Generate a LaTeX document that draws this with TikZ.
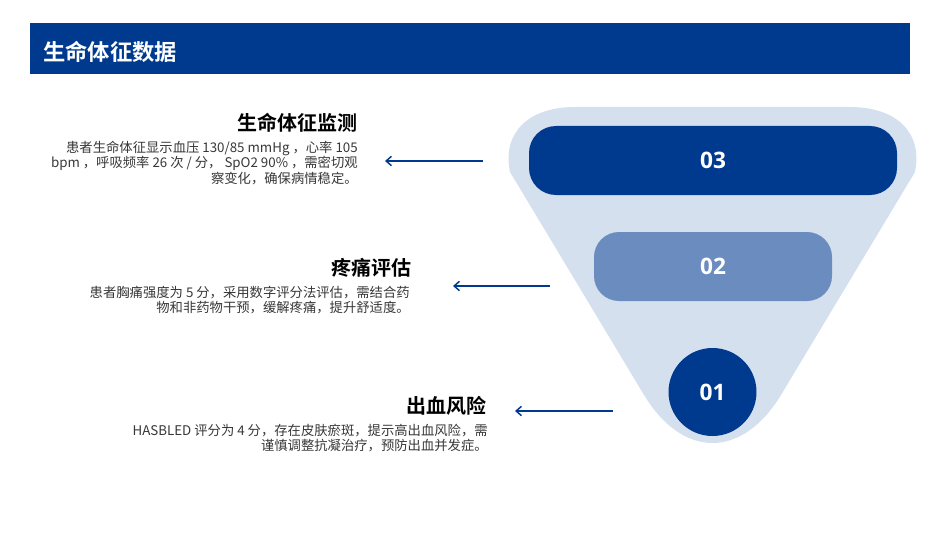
\documentclass[tikz,border=0pt]{standalone}
\usepackage{fontspec}
\setmainfont{Noto Sans CJK SC}[BoldFont={Noto Sans CJK SC Bold}]
\newfontfamily\numfont{Open Sans}
\usetikzlibrary{arrows.meta}
\definecolor{darkblue}{RGB}{0,58,143}
\definecolor{midblue}{RGB}{106,140,191}
\definecolor{lightblue}{RGB}{213,224,238}
\definecolor{bodygray}{RGB}{55,55,55}
\tikzset{
  titletext/.style={anchor=base east, inner sep=0pt, font=\fontsize{15}{18}\selectfont\bfseries, text=black},
  bodytext/.style={anchor=north east, inner sep=0pt, align=right, font=\fontsize{10}{11.8}\selectfont, text=bodygray},
  numtext/.style={text=white, font=\numfont\fontsize{17}{20}\selectfont\bfseries},
  pointer/.style={draw=darkblue, line width=1.1pt, -{Straight Barb[length=4pt,width=7pt,line width=1.1pt]}},
}
\begin{document}
\begin{tikzpicture}[x=0.75pt,y=-0.75pt]
\useasboundingbox (0,0) rectangle (950,535);
% header
\fill[darkblue] (30,23) rectangle (910,74);
\node[anchor=west, inner sep=0pt, text=white, font=\fontsize{16.7}{20}\selectfont\bfseries] (hdr) at (43,52) {生命体征数据};
% funnel
\fill[lightblue] (510,172) .. controls (502,133) and (528,107) .. (575,107)
  -- (850,107) .. controls (897,107) and (923,133) .. (915,172)
  -- (781,395) .. controls (742,459) and (683,459) .. (644,395) -- cycle;
% levels
\node[fill=darkblue, rounded corners=27pt*0.75, minimum width=368*0.75pt, minimum height=69*0.75pt, inner sep=0pt, numtext] (l3) at (713,160.5) {03};
\node[fill=midblue, rounded corners=25pt*0.75, minimum width=238*0.75pt, minimum height=69*0.75pt, inner sep=0pt, numtext] (l2) at (713,266.5) {02};
\node[fill=darkblue, circle, minimum size=88*0.75pt, inner sep=0pt, numtext] (l1) at (712.5,392) {01};
% texts
\node[titletext] (t3) at (358,131) {生命体征监测};
\node[bodytext] (b3) at (358,140.5) {患者生命体征显示血压 130/85 mmHg ，心率 105\\bpm ，呼吸频率 26 次 / 分， SpO2 90\% ，需密切观\\察变化，确保病情稳定。};
\node[titletext] (t2) at (412,275) {疼痛评估};
\node[bodytext] (b2) at (410,285.5) {患者胸痛强度为 5 分，采用数字评分法评估，需结合药\\物和非药物干预，缓解疼痛，提升舒适度。};
\node[titletext] (t1) at (487,413) {出血风险};
\node[bodytext] (b1) at (488,423.5) {HASBLED 评分为 4 分，存在皮肤瘀斑，提示高出血风险，需\\谨慎调整抗凝治疗，预防出血并发症。};
% arrows
\coordinate (a3s) at (483,161);
\coordinate (a3e) at (385,161);
\coordinate (a2s) at (550,286);
\coordinate (a2e) at (453,286);
\coordinate (a1s) at (613,411);
\coordinate (a1e) at (515,411);
\draw[pointer] (a3s) -- (a3e);
\draw[pointer] (a2s) -- (a2e);
\draw[pointer] (a1s) -- (a1e);
\end{tikzpicture}
\end{document}
